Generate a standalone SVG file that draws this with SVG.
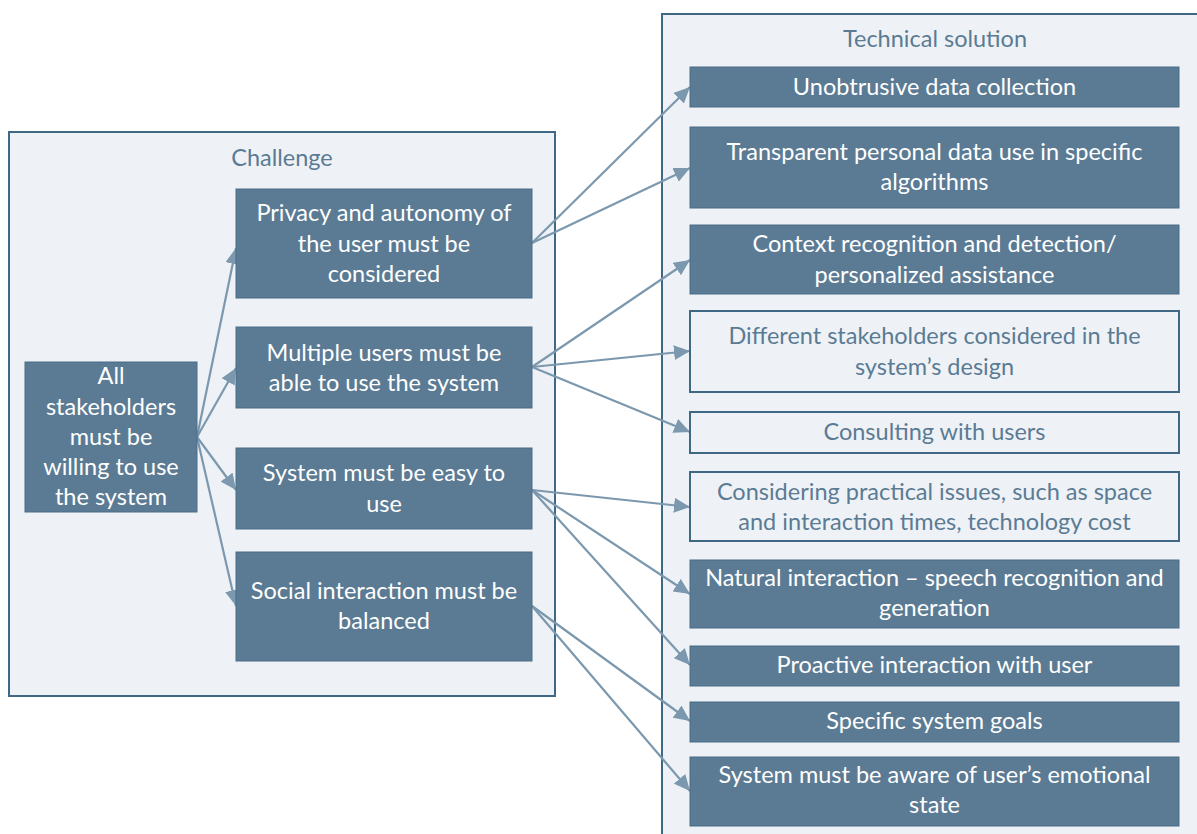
<svg xmlns="http://www.w3.org/2000/svg" width="1197" height="834" viewBox="0 0 1197 834">
<defs>
<style>
.cont{fill:#eef2f6;stroke:#3f6885;stroke-width:2}
.title{font-family:Lato,"Liberation Sans",sans-serif;font-size:23.5px;fill:#5b7b94;text-anchor:middle}
.fill rect{fill:#5b7b94;stroke:#4a6c86;stroke-width:1}
.fill text{font-family:Lato,"Liberation Sans",sans-serif;font-size:23.5px;fill:#ffffff;text-anchor:middle}
.out rect{fill:#eef2f6;stroke:#3f6885;stroke-width:2}
.out text{font-family:Lato,"Liberation Sans",sans-serif;font-size:23.5px;fill:#5b7b94;text-anchor:middle}
.conn line{stroke:#7b98ae;stroke-width:2.2;marker-end:url(#ah)}
</style>
<marker id="ah" markerUnits="userSpaceOnUse" markerWidth="17" markerHeight="15" refX="16" refY="7.5" orient="auto">
<path d="M0,0 L16,7.5 L0,15 z" fill="#7b98ae"/>
</marker>
</defs>
<rect width="1197" height="834" fill="#ffffff"/>
<g id="challenge-container">
<rect class="cont" x="9" y="132" width="546" height="564"/>
<text class="title" x="282" y="166">Challenge</text>
</g>
<g id="tech-container">
<rect class="cont" x="662" y="14" width="545" height="830"/>
<text class="title" x="935" y="47">Technical solution</text>
</g>
<g class="conn" id="connectors">
<line x1="197" y1="437" x2="236" y2="248"/>
<line x1="197" y1="437" x2="236" y2="368"/>
<line x1="197" y1="437" x2="236" y2="490"/>
<line x1="197" y1="437" x2="236" y2="606"/>
<line x1="532" y1="243" x2="690" y2="87"/>
<line x1="532" y1="243" x2="690" y2="168"/>
<line x1="532" y1="367" x2="690" y2="260"/>
<line x1="532" y1="367" x2="690" y2="351"/>
<line x1="532" y1="367" x2="690" y2="432"/>
<line x1="532" y1="490" x2="690" y2="507"/>
<line x1="532" y1="490" x2="690" y2="594"/>
<line x1="532" y1="490" x2="690" y2="665"/>
<line x1="532" y1="606" x2="690" y2="721"/>
<line x1="532" y1="606" x2="690" y2="791"/>
</g>
<g id="all" class="fill">
<rect x="25" y="362" width="172" height="150"/>
<text x="111" y="384">All</text>
<text x="111" y="415">stakeholders</text>
<text x="111" y="445">must be</text>
<text x="111" y="475">willing to use</text>
<text x="111" y="505">the system</text>
</g>
<g id="privacy" class="fill">
<rect x="236" y="189" width="296" height="109"/>
<text x="384" y="221">Privacy and autonomy of</text>
<text x="384" y="252">the user must be</text>
<text x="384" y="282">considered</text>
</g>
<g id="multiple" class="fill">
<rect x="236" y="327" width="296" height="81"/>
<text x="384" y="361">Multiple users must be</text>
<text x="384" y="391">able to use the system</text>
</g>
<g id="easy" class="fill">
<rect x="236" y="448" width="296" height="81"/>
<text x="384" y="481">System must be easy to</text>
<text x="384" y="512">use</text>
</g>
<g id="social" class="fill">
<rect x="236" y="552" width="296" height="109"/>
<text x="384" y="599">Social interaction must be</text>
<text x="384" y="629">balanced</text>
</g>
<g id="unobtrusive" class="fill">
<rect x="690" y="67" width="489" height="40"/>
<text x="934.5" y="95">Unobtrusive data collection</text>
</g>
<g id="transparent" class="fill">
<rect x="690" y="127" width="489" height="81"/>
<text x="934.5" y="160">Transparent personal data use in specific</text>
<text x="934.5" y="190">algorithms</text>
</g>
<g id="context" class="fill">
<rect x="690" y="225" width="489" height="69"/>
<text x="934.5" y="252">Context recognition and detection/</text>
<text x="934.5" y="283">personalized assistance</text>
</g>
<g id="different" class="out">
<rect x="690" y="311" width="489" height="81"/>
<text x="934.5" y="344">Different stakeholders considered in the</text>
<text x="934.5" y="375">system’s design</text>
</g>
<g id="consulting" class="out">
<rect x="690" y="412" width="489" height="41"/>
<text x="934.5" y="440">Consulting with users</text>
</g>
<g id="considering" class="out">
<rect x="690" y="472" width="489" height="69"/>
<text x="934.5" y="500">Considering practical issues, such as space</text>
<text x="934.5" y="530">and interaction times, technology cost</text>
</g>
<g id="natural" class="fill">
<rect x="690" y="560" width="489" height="68"/>
<text x="934.5" y="586">Natural interaction – speech recognition and</text>
<text x="934.5" y="616">generation</text>
</g>
<g id="proactive" class="fill">
<rect x="690" y="646" width="489" height="40"/>
<text x="934.5" y="673">Proactive interaction with user</text>
</g>
<g id="specific" class="fill">
<rect x="690" y="702" width="489" height="40"/>
<text x="934.5" y="729">Specific system goals</text>
</g>
<g id="aware" class="fill">
<rect x="690" y="757" width="489" height="69"/>
<text x="934.5" y="783">System must be aware of user’s emotional</text>
<text x="934.5" y="813">state</text>
</g>
</svg>
